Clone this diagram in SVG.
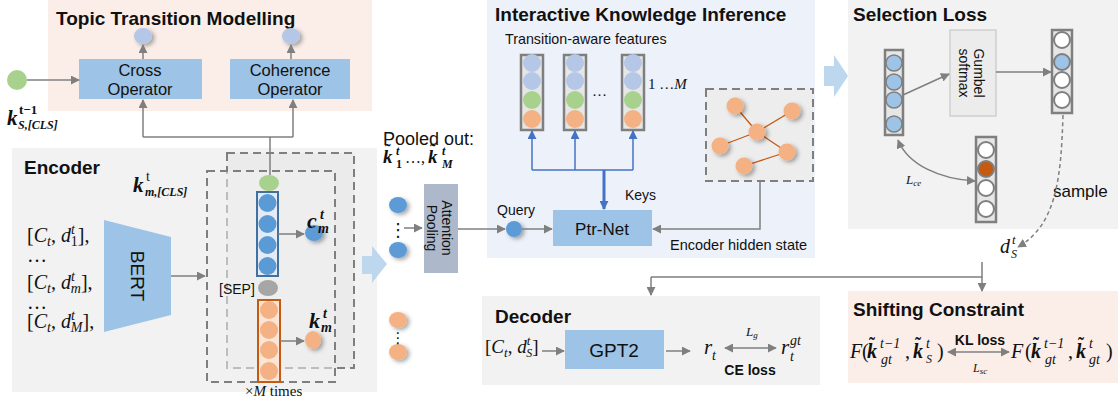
<svg xmlns="http://www.w3.org/2000/svg" width="1118" height="405" viewBox="0 0 1118 405">
<style>
.t{font-family:"Liberation Sans",Arial,sans-serif;fill:#111}
.h{font-family:"Liberation Sans",Arial,sans-serif;font-weight:bold;font-size:19px;fill:#111}
.m{font-family:"Liberation Serif","Times New Roman",serif;fill:#111}
.i{font-style:italic}
.b{font-weight:bold;font-style:italic}
.tl{font-family:"Liberation Serif","Times New Roman",serif;font-weight:bold;fill:#111}
.ln{fill:none;stroke:#7f7f7f;stroke-width:1.5}
.bl{fill:none;stroke:#4472c4;stroke-width:1.5}
.box{fill:#9dc3e6}
.dash{stroke:#7f7f7f;stroke-width:2;stroke-dasharray:8 5}
.col{fill:#e6e6e6;stroke:#7f7f7f;stroke-width:2.5}
.lav{fill:#b4c7e7}
.grn{fill:#a9d18e}
.org{fill:#f4b183}
.blu{fill:#5b9bd5}
.wc{fill:#fff;stroke:#7f7f7f;stroke-width:2}
.arr{fill:#bdd7ee}
</style>
<defs>
<marker id="ah" viewBox="0 0 10 10" refX="9" refY="5" markerWidth="9" markerHeight="9" markerUnits="userSpaceOnUse" orient="auto-start-reverse"><path d="M0,0 L10,5 L0,10 z" fill="#7f7f7f"/></marker>
<marker id="ab" viewBox="0 0 10 10" refX="9" refY="5" markerWidth="9" markerHeight="9" markerUnits="userSpaceOnUse" orient="auto-start-reverse"><path d="M0,0 L10,5 L0,10 z" fill="#4472c4"/></marker>
<filter id="sh" x="-50%" y="-50%" width="200%" height="200%"><feDropShadow dx="2.5" dy="2" stdDeviation="2" flood-color="#000" flood-opacity="0.35"/></filter>
</defs>

<!-- panels -->
<g id="topic-panel">
<rect x="48" y="0" width="324" height="111" fill="#fbeee9"/>
<text class="h" x="56" y="25">Topic Transition Modelling</text>
</g>
<g id="encoder-panel">
<rect x="12" y="148" width="365" height="244" fill="#f2f2f2"/>
<text class="h" x="24" y="174">Encoder</text>
</g>
<g id="iki-panel">
<rect x="487" y="0" width="328" height="258" fill="#edf2fa"/>
<text class="h" x="495" y="21">Interactive  Knowledge Inference</text>
<text class="t" x="505" y="44" font-size="14.3">Transition-aware   features</text>
</g>
<g id="selection-panel">
<rect x="848" y="0" width="270" height="229" fill="#f2f2f2"/>
<text class="h" x="853" y="21">Selection  Loss</text>
</g>
<g id="decoder-panel">
<rect x="482" y="296" width="338" height="89" fill="#f2f2f2"/>
<text class="h" x="495" y="323">Decoder</text>
</g>
<g id="shifting-panel">
<rect x="848" y="291" width="270" height="92" fill="#fbeee9"/>
<text class="h" x="853" y="316">Shifting Constraint</text>
</g>

<!-- topic transition nodes -->
<g id="cross-op">
<rect class="box" x="79" y="59" width="123" height="40"/>
<text class="t" x="140" y="76" font-size="16.5" text-anchor="middle">Cross</text>
<text class="t" x="140" y="95" font-size="16.5" text-anchor="middle">Operator</text>
</g>
<g id="coherence-op">
<rect class="box" x="230" y="59" width="120" height="40"/>
<text class="t" x="290" y="76" font-size="16.5" text-anchor="middle">Coherence</text>
<text class="t" x="290" y="95" font-size="16.5" text-anchor="middle">Operator</text>
</g>
<g id="topic-outputs" filter="url(#sh)">
<ellipse class="lav" cx="143" cy="36" rx="9" ry="8"/>
<ellipse class="lav" cx="291" cy="36" rx="9" ry="8"/>
</g>
<g id="prev-knowledge">
<circle class="grn" cx="17" cy="80" r="10"/>
<text class="m b" x="7" y="125" font-size="21">k</text>
<text class="m" x="19" y="114" font-size="13" font-weight="bold">t−1</text>
<text class="m b" x="18" y="129" font-size="12">S,[CLS]</text>
</g>

<!-- encoder -->
<g id="encoder-inputs" class="m" font-size="20">
<text x="27" y="242">[<tspan class="i">C</tspan><tspan font-size="14" dy="4" class="i">t</tspan><tspan dy="-4">, </tspan><tspan class="i">d</tspan><tspan font-size="14" dy="-8" class="i">t</tspan><tspan font-size="14" dx="-4" dy="12">1</tspan><tspan dy="-4">],</tspan></text>
<text x="27" y="262">…</text>
<text x="27" y="289">[<tspan class="i">C</tspan><tspan font-size="14" dy="4" class="i">t</tspan><tspan dy="-4">, </tspan><tspan class="i">d</tspan><tspan font-size="14" dy="-8" class="i">t</tspan><tspan font-size="14" dx="-4" dy="12" class="i">m</tspan><tspan dy="-4">],</tspan></text>
<text x="27" y="309">…</text>
<text x="27" y="328">[<tspan class="i">C</tspan><tspan font-size="14" dy="4" class="i">t</tspan><tspan dy="-4">, </tspan><tspan class="i">d</tspan><tspan font-size="14" dy="-8" class="i">t</tspan><tspan font-size="14" dx="-4" dy="12" class="i">M</tspan><tspan dy="-4">],</tspan></text>
</g>
<g id="bert">
<polygon class="box" points="104,220 171,237 171,315 104,332"/>
<text class="t" x="138" y="276" font-size="19" text-anchor="middle" dy="7" transform="rotate(90 138 276)">BERT</text>
</g>
<g id="encoder-stack">
<rect x="227" y="153" width="127" height="215" fill="#ebebeb" class="dash"/>
<rect x="207" y="171" width="128" height="211" fill="#f0f0f0" fill-opacity="0.55" class="dash"/>
<text class="m b" x="133" y="192" font-size="21">k</text>
<text class="m" x="146" y="181" font-size="14">t</text>
<text class="m b" x="145" y="196" font-size="12">m,[CLS]</text>
<ellipse class="grn" cx="269" cy="183" rx="10" ry="8"/>
<rect x="257" y="192" width="21" height="84" fill="#e3ecf6" stroke="#41719c" stroke-width="2"/>
<circle class="blu" cx="267.5" cy="203" r="9"/>
<circle class="blu" cx="267.5" cy="224" r="9"/>
<circle class="blu" cx="267.5" cy="245" r="9"/>
<circle class="blu" cx="267.5" cy="266" r="9"/>
<ellipse cx="268" cy="288" rx="10" ry="8" fill="#a6a6a6"/>
<text class="t" x="219" y="294" font-size="14">[SEP]</text>
<rect x="258" y="300" width="22" height="82" fill="#fbe5d6" stroke="#c55a11" stroke-width="2"/>
<circle class="org" cx="269" cy="310" r="9"/>
<circle class="org" cx="269" cy="330" r="9"/>
<circle class="org" cx="269" cy="350" r="9"/>
<circle class="org" cx="269" cy="371" r="9"/>
<ellipse class="blu" cx="314" cy="233" rx="9" ry="8" filter="url(#sh)"/>
<ellipse class="org" cx="313" cy="340" rx="8" ry="9" filter="url(#sh)"/>
<text class="m b" x="307" y="228" font-size="22">c</text>
<text class="m b" x="320" y="219" font-size="14">t</text>
<text class="m b" x="318" y="233" font-size="14">m</text>
<text class="m b" x="309" y="328" font-size="22">k</text>
<text class="m b" x="323" y="318" font-size="14">t</text>
<text class="m b" x="321" y="332" font-size="14">m</text>
<text class="m" x="245" y="396" font-size="15">×<tspan class="i">M</tspan> times</text>
</g>
<g id="big-arrow-left"><polygon class="arr" points="362,256 372,256 372,246 387,264 372,283 372,274 362,274"/></g>

<!-- pooled -->
<g id="pooled">
<text class="t" x="383" y="145" font-size="18">Pooled out:</text>
<text class="m b" x="383" y="163" font-size="19">k</text>
<text class="tl" x="385" y="156" font-size="17">˜</text>
<text class="m b" x="396" y="155" font-size="12">t</text>
<text class="m" x="396" y="168" font-size="12" font-weight="bold">1</text>
<text class="m" x="405" y="163" font-size="16">…,</text>
<text class="m b" x="428" y="163" font-size="19">k</text>
<text class="tl" x="430" y="156" font-size="17">˜</text>
<text class="m b" x="442" y="155" font-size="12">t</text>
<text class="m b" x="442" y="168" font-size="12">M</text>
<g filter="url(#sh)">
<ellipse class="blu" cx="398" cy="205" rx="9" ry="8"/>
<ellipse class="blu" cx="398" cy="250" rx="9" ry="8"/>
<ellipse class="org" cx="398" cy="320" rx="9" ry="8"/>
<ellipse class="org" cx="398" cy="352" rx="9" ry="8"/>
</g>
<text x="398" y="236" font-family="DejaVu Sans,sans-serif" font-size="18" text-anchor="middle" fill="#111">⋮</text>
<text x="398" y="343" font-family="DejaVu Sans,sans-serif" font-size="15" text-anchor="middle" fill="#111">⋮</text>
</g>
<g id="attention-pooling">
<rect x="424" y="184" width="34" height="89" fill="#adb9ca"/>
<text class="t" font-size="14" text-anchor="middle" transform="rotate(90 441 228)"><tspan x="441" y="227">Attention</tspan><tspan x="441" y="242">Pooling</tspan></text>
</g>

<!-- IKI -->
<g id="feature-columns">
<rect class="col" x="521" y="55" width="22" height="75"/>
<circle class="lav" cx="532" cy="63" r="9"/><circle class="lav" cx="532" cy="81" r="9"/><circle class="grn" cx="532" cy="100" r="9"/><circle class="org" cx="532" cy="119" r="9"/>
<rect class="col" x="564" y="55" width="22" height="75"/>
<circle class="lav" cx="575" cy="63" r="9"/><circle class="lav" cx="575" cy="81" r="9"/><circle class="grn" cx="575" cy="100" r="9"/><circle class="org" cx="575" cy="119" r="9"/>
<rect class="col" x="622" y="55" width="22" height="75"/>
<circle class="lav" cx="633" cy="63" r="9"/><circle class="lav" cx="633" cy="81" r="9"/><circle class="grn" cx="633" cy="100" r="9"/><circle class="org" cx="633" cy="119" r="9"/>
<text class="m" x="592" y="100" font-size="15">···</text>
<text class="m" x="648" y="89" font-size="15">1 …<tspan class="i">M</tspan></text>
</g>
<g id="graph">
<rect x="706" y="89" width="107" height="92" fill="#ededed" class="dash"/>
<g stroke="#c55a11" stroke-width="1.3">
<line x1="735" y1="106" x2="757" y2="132"/><line x1="792" y1="111" x2="757" y2="132"/><line x1="720" y1="146" x2="757" y2="132"/><line x1="757" y1="132" x2="787" y2="152"/><line x1="744" y1="166" x2="787" y2="152"/>
</g>
<g filter="url(#sh)">
<circle class="org" cx="735" cy="106" r="8.5"/><circle class="org" cx="792" cy="111" r="8.5"/><circle class="org" cx="757" cy="132" r="8.5"/><circle class="org" cx="720" cy="146" r="8.5"/><circle class="org" cx="787" cy="152" r="8.5"/><circle class="org" cx="744" cy="166" r="8.5"/>
</g>
<text class="t" x="670" y="250" font-size="14.5">Encoder  hidden   state</text>
</g>
<g id="query">
<circle class="blu" cx="514" cy="229" r="8" filter="url(#sh)"/>
<text class="t" x="497" y="215" font-size="14">Query</text>
<text class="t" x="625" y="200" font-size="14">Keys</text>
</g>
<g id="ptr-net">
<rect class="box" x="553" y="210" width="99" height="36"/>
<text class="t" x="602" y="235" font-size="17" text-anchor="middle">Ptr-Net</text>
</g>

<!-- selection -->
<g id="big-arrow-right"><polygon class="arr" points="824,66 834,66 834,55 848,76 834,97 834,86 824,86"/></g>
<g id="score-column">
<rect class="col" x="885" y="50" width="18" height="85" fill="#e6e6e6"/>
<circle cx="894" cy="63" r="8" fill="#9dc3e6" stroke="#7f7f7f" stroke-width="1.5"/>
<circle cx="894" cy="82" r="8" fill="#9dc3e6" stroke="#7f7f7f" stroke-width="1.5"/>
<circle cx="894" cy="100" r="8" fill="#9dc3e6" stroke="#7f7f7f" stroke-width="1.5"/>
<circle cx="894" cy="124" r="8" fill="#9dc3e6" stroke="#7f7f7f" stroke-width="1.5"/>
</g>
<g id="gumbel">
<rect x="950" y="30" width="46" height="86" fill="#ececec" stroke="#cfcfcf" stroke-width="1.5"/>
<text class="t" font-size="14" text-anchor="middle" transform="rotate(90 973 73)"><tspan x="973" y="72">Gumbel</tspan><tspan x="973" y="87">softmax</tspan></text>
</g>
<g id="sample-column">
<rect class="col" x="1052" y="30" width="20" height="83" fill="#fff"/>
<circle class="wc" cx="1062" cy="40" r="8"/>
<circle cx="1062" cy="62" r="8" fill="#9dc3e6" stroke="#7f7f7f" stroke-width="2"/>
<circle class="wc" cx="1062" cy="80" r="8"/>
<circle class="wc" cx="1062" cy="100" r="8"/>
</g>
<g id="gt-column">
<rect class="col" x="976" y="137" width="20" height="85" fill="#fff"/>
<circle class="wc" cx="986" cy="150" r="8"/>
<circle cx="986" cy="169" r="8" fill="#c55a11" stroke="#7f7f7f" stroke-width="2"/>
<circle class="wc" cx="986" cy="188" r="8"/>
<circle class="wc" cx="986" cy="209" r="8"/>
</g>
<g id="selection-labels">
<text class="m i" x="906" y="184" font-size="13">L<tspan font-size="9" dy="2">ce</tspan></text>
<text class="t" x="1053" y="197" font-size="17">sample</text>
<text class="m i" x="1000" y="253" font-size="20">d</text>
<text class="m i" x="1012" y="244" font-size="13">t</text>
<text class="m i" x="1011" y="258" font-size="12">S</text>
</g>

<!-- decoder -->
<g id="decoder-input">
<text class="m" x="485" y="353" font-size="19">[<tspan class="i">C</tspan><tspan font-size="13" dy="4" class="i">t</tspan><tspan dy="-4">, </tspan><tspan class="i">d</tspan><tspan font-size="13" dy="-8" class="i">t</tspan><tspan font-size="12" dx="-4" dy="12" class="i">S</tspan><tspan dy="-4">]</tspan></text>
</g>
<g id="gpt2">
<rect class="box" x="565" y="330" width="99" height="39"/>
<text class="t" x="614" y="357" font-size="19" text-anchor="middle">GPT2</text>
</g>
<g id="decoder-output">
<text class="m i" x="704" y="354" font-size="21">r</text>
<text class="m i" x="712" y="360" font-size="14">t</text>
<text class="m i" x="746" y="336" font-size="13">L<tspan font-size="9" dy="2">g</tspan></text>
<text class="m i" x="781" y="354" font-size="21">r</text>
<text class="m i" x="790" y="345" font-size="14">gt</text>
<text class="m i" x="790" y="361" font-size="14">t</text>
<text class="t" x="750" y="375" font-size="14" font-weight="bold" text-anchor="middle">CE loss</text>
</g>

<!-- shifting constraint -->
<g id="kl-formula">
<text class="m i" x="850" y="358" font-size="20">F</text>
<text class="m" x="862" y="358" font-size="20">(</text>
<text class="m b" x="867" y="358" font-size="20">k</text>
<text class="tl" x="869" y="350" font-size="18">˜</text>
<text class="m i" x="880" y="348" font-size="14">t−1</text>
<text class="m i" x="881" y="364" font-size="14">gt</text>
<text class="m" x="905" y="358" font-size="20">,</text>
<text class="m b" x="913" y="358" font-size="20">k</text>
<text class="tl" x="915" y="350" font-size="18">˜</text>
<text class="m i" x="926" y="348" font-size="14">t</text>
<text class="m i" x="926" y="363" font-size="12">S</text>
<text class="m" x="937" y="358" font-size="20">)</text>
<text class="t" x="980" y="345" font-size="14" font-weight="bold" text-anchor="middle">KL loss</text>
<text class="m i" x="973" y="372" font-size="12">L<tspan font-size="9" dy="2">sc</tspan></text>
<text class="m i" x="1011" y="358" font-size="20">F</text>
<text class="m" x="1025" y="358" font-size="20">(</text>
<text class="m b" x="1031" y="358" font-size="20">k</text>
<text class="tl" x="1033" y="350" font-size="18">˜</text>
<text class="m i" x="1044" y="348" font-size="14">t−1</text>
<text class="m i" x="1045" y="364" font-size="14">gt</text>
<text class="m" x="1068" y="358" font-size="20">,</text>
<text class="m b" x="1076" y="358" font-size="20">k</text>
<text class="tl" x="1078" y="350" font-size="18">˜</text>
<text class="m i" x="1089" y="348" font-size="14">t</text>
<text class="m i" x="1089" y="364" font-size="14">gt</text>
<text class="m" x="1106" y="358" font-size="20">)</text>
</g>

<!-- connectors -->
<g id="connectors">
<line class="ln" x1="27" y1="80" x2="79" y2="80" marker-end="url(#ah)"/>
<line class="ln" x1="143" y1="59" x2="143" y2="45" marker-end="url(#ah)"/>
<line class="ln" x1="291" y1="59" x2="291" y2="45" marker-end="url(#ah)"/>
<path class="ln" d="M143,137 H293"/>
<line class="ln" x1="143" y1="137" x2="143" y2="100" marker-end="url(#ah)"/>
<line class="ln" x1="293" y1="137" x2="293" y2="100" marker-end="url(#ah)"/>
<line class="ln" x1="270" y1="137" x2="270" y2="175"/>
<line class="ln" x1="171" y1="276" x2="205" y2="276" marker-end="url(#ah)"/>
<line class="ln" x1="278" y1="234" x2="304" y2="234" marker-end="url(#ah)"/>
<line class="ln" x1="280" y1="341" x2="304" y2="341" marker-end="url(#ah)"/>
<line class="ln" x1="404" y1="228" x2="422" y2="228" marker-end="url(#ah)"/>
<line class="ln" x1="458" y1="229" x2="505" y2="229" marker-end="url(#ah)"/>
<line class="ln" x1="522" y1="229" x2="552" y2="229" marker-end="url(#ah)"/>
<path class="ln" d="M760,181 V229 H653" marker-end="url(#ah)"/>
<path class="bl" d="M532,170 H633"/>
<line class="bl" x1="532" y1="170" x2="532" y2="131" marker-end="url(#ab)"/>
<line class="bl" x1="575" y1="170" x2="575" y2="131" marker-end="url(#ab)"/>
<line class="bl" x1="633" y1="170" x2="633" y2="131" marker-end="url(#ab)"/>
<line x1="604" y1="170" x2="604" y2="209" stroke="#4472c4" stroke-width="3" marker-end="url(#ab)"/>
<line class="ln" x1="903" y1="95" x2="949" y2="74" marker-end="url(#ah)"/>
<line class="ln" x1="996" y1="72" x2="1051" y2="72" marker-end="url(#ah)"/>
<path class="ln" d="M898,140 C908,165 940,179 975,181" marker-start="url(#ah)" marker-end="url(#ah)"/>
<path class="ln" d="M1063,115 C1061,180 1056,225 1018,247" stroke-dasharray="4 3" stroke-width="1.2" marker-end="url(#ah)"/>
<path class="ln" d="M982,262 V277 H651"/>
<line class="ln" x1="651" y1="277" x2="651" y2="295" marker-end="url(#ah)"/>
<line class="ln" x1="982" y1="277" x2="982" y2="291" marker-end="url(#ah)"/>
<line class="ln" x1="542" y1="351" x2="564" y2="351" marker-end="url(#ah)"/>
<line class="ln" x1="666" y1="351" x2="690" y2="351" marker-end="url(#ah)"/>
<line class="ln" x1="725" y1="348" x2="776" y2="348" marker-start="url(#ah)" marker-end="url(#ah)"/>
<line class="ln" x1="948" y1="352" x2="1009" y2="352" marker-start="url(#ah)" marker-end="url(#ah)"/>
</g>
</svg>
